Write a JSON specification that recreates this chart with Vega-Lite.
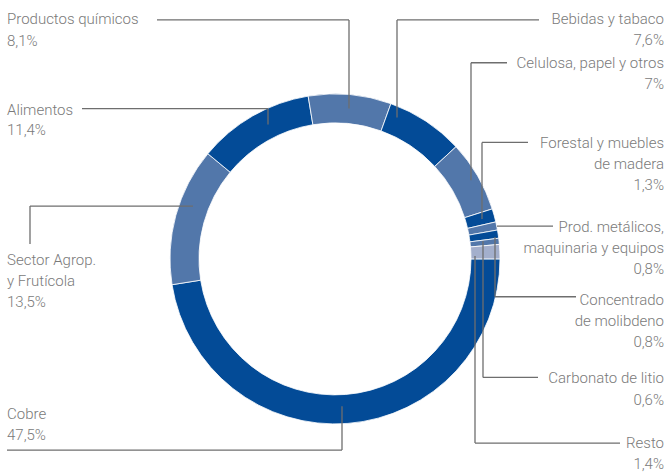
{
  "$schema": "https://vega.github.io/schema/vega-lite/v6.json",
  "width": 666,
  "height": 472,
  "padding": 0,
  "autosize": {"type": "fit", "contains": "padding"},
  "background": "white",
  "config": {"view": {"stroke": null}},
  "datasets": {
    "sectores": [
      {"sector": "Cobre", "pct": 47.5, "tono": "oscuro", "orden": 1},
      {"sector": "Sector Agrop. y Frutícola", "pct": 13.5, "tono": "claro", "orden": 2},
      {"sector": "Alimentos", "pct": 11.4, "tono": "oscuro", "orden": 3},
      {"sector": "Productos químicos", "pct": 8.1, "tono": "claro", "orden": 4},
      {"sector": "Bebidas y tabaco", "pct": 7.6, "tono": "oscuro", "orden": 5},
      {"sector": "Celulosa, papel y otros", "pct": 7.0, "tono": "claro", "orden": 6},
      {"sector": "Forestal y muebles de madera", "pct": 1.3, "tono": "oscuro", "orden": 7},
      {"sector": "Prod. metálicos, maquinaria y equipos", "pct": 0.8, "tono": "claro", "orden": 8},
      {"sector": "Concentrado de molibdeno", "pct": 0.8, "tono": "oscuro", "orden": 9},
      {"sector": "Carbonato de litio", "pct": 0.6, "tono": "claro", "orden": 10},
      {"sector": "Resto", "pct": 1.4, "tono": "gris", "orden": 11}
    ],
    "guias": [
      {"x": 157, "y": 20, "x2": 349, "y2": 20},
      {"x": 349, "y": 20, "x2": 349, "y2": 109},
      {"x": 82, "y": 109, "x2": 268, "y2": 109},
      {"x": 268, "y": 109, "x2": 268, "y2": 125},
      {"x": 30, "y": 245, "x2": 30, "y2": 207},
      {"x": 30, "y": 207, "x2": 193, "y2": 207},
      {"x": 7, "y": 452, "x2": 342, "y2": 452},
      {"x": 342, "y": 452, "x2": 342, "y2": 408},
      {"x": 539, "y": 20, "x2": 397, "y2": 20},
      {"x": 397, "y": 20, "x2": 397, "y2": 118},
      {"x": 507, "y": 63, "x2": 471, "y2": 63},
      {"x": 471, "y": 63, "x2": 471, "y2": 181},
      {"x": 528, "y": 143, "x2": 482, "y2": 143},
      {"x": 482, "y": 143, "x2": 482, "y2": 220},
      {"x": 497, "y": 227, "x2": 553, "y2": 227},
      {"x": 495, "y": 238, "x2": 495, "y2": 298},
      {"x": 495, "y": 298, "x2": 576, "y2": 298},
      {"x": 483, "y": 242, "x2": 483, "y2": 379},
      {"x": 483, "y": 379, "x2": 538, "y2": 379},
      {"x": 475, "y": 257, "x2": 475, "y2": 445},
      {"x": 475, "y": 445, "x2": 620, "y2": 445}
    ],
    "etiquetas": [
      {"x": 7, "y": 19, "texto": "Productos químicos", "lado": "izq"},
      {"x": 7, "y": 41, "texto": "8,1%", "lado": "izq"},
      {"x": 7, "y": 110, "texto": "Alimentos", "lado": "izq"},
      {"x": 7, "y": 131, "texto": "11,4%", "lado": "izq"},
      {"x": 7, "y": 261, "texto": "Sector Agrop.", "lado": "izq"},
      {"x": 7, "y": 282, "texto": "y Frutícola", "lado": "izq"},
      {"x": 7, "y": 303, "texto": "13,5%", "lado": "izq"},
      {"x": 7, "y": 416, "texto": "Cobre", "lado": "izq"},
      {"x": 7, "y": 437, "texto": "47,5%", "lado": "izq"},
      {"x": 664, "y": 19, "texto": "Bebidas y tabaco", "lado": "der"},
      {"x": 664, "y": 40, "texto": "7,6%", "lado": "der"},
      {"x": 664, "y": 63, "texto": "Celulosa, papel y otros", "lado": "der"},
      {"x": 664, "y": 84, "texto": "7%", "lado": "der"},
      {"x": 664, "y": 144, "texto": "Forestal y muebles", "lado": "der"},
      {"x": 664, "y": 165, "texto": "de madera", "lado": "der"},
      {"x": 664, "y": 186, "texto": "1,3%", "lado": "der"},
      {"x": 664, "y": 228, "texto": "Prod. metálicos,", "lado": "der"},
      {"x": 664, "y": 249, "texto": "maquinaria y equipos", "lado": "der"},
      {"x": 664, "y": 270, "texto": "0,8%", "lado": "der"},
      {"x": 664, "y": 301, "texto": "Concentrado", "lado": "der"},
      {"x": 664, "y": 322, "texto": "de molibdeno", "lado": "der"},
      {"x": 664, "y": 343, "texto": "0,8%", "lado": "der"},
      {"x": 664, "y": 380, "texto": "Carbonato de litio", "lado": "der"},
      {"x": 664, "y": 402, "texto": "0,6%", "lado": "der"},
      {"x": 664, "y": 445, "texto": "Resto", "lado": "der"},
      {"x": 664, "y": 466, "texto": "1,4%", "lado": "der"}
    ]
  },
  "layer": [
    {
      "data": {"name": "sectores"},
      "mark": {"type": "arc", "outerRadius": 165, "innerRadius": 136, "stroke": "white", "strokeWidth": 0.8},
      "encoding": {
        "theta": {"field": "pct", "type": "quantitative", "stack": true, "scale": {"range": [1.5707963, 7.8539816]}},
        "order": {"field": "orden", "type": "quantitative"},
        "color": {"field": "tono", "type": "nominal", "scale": {"domain": ["oscuro", "claro", "gris"], "range": ["#034b97", "#5277aa", "#a3afcc"]}, "legend": null},
        "x": {"datum": 335, "type": "quantitative", "scale": {"domain": [0, 666], "nice": false}, "axis": null},
        "y": {"datum": 260, "type": "quantitative", "scale": {"domain": [0, 472], "nice": false, "reverse": true}, "axis": null},
        "tooltip": [{"field": "sector"}, {"field": "pct"}]
      }
    },
    {
      "data": {"name": "guias"},
      "mark": {"type": "rule", "color": "#6e6e6e", "strokeWidth": 1.3},
      "encoding": {
        "x": {"field": "x", "type": "quantitative"},
        "y": {"field": "y", "type": "quantitative"},
        "x2": {"field": "x2"},
        "y2": {"field": "y2"}
      }
    },
    {
      "data": {"name": "etiquetas"},
      "transform": [{"filter": "datum.lado === 'izq'"}],
      "mark": {"type": "text", "align": "left", "baseline": "middle", "font": "Roboto", "fontSize": 15, "fontWeight": 300, "color": "#7a7a7a"},
      "encoding": {
        "x": {"field": "x", "type": "quantitative"},
        "y": {"field": "y", "type": "quantitative"},
        "text": {"field": "texto"}
      }
    },
    {
      "data": {"name": "etiquetas"},
      "transform": [{"filter": "datum.lado === 'der'"}],
      "mark": {"type": "text", "align": "right", "baseline": "middle", "font": "Roboto", "fontSize": 15, "fontWeight": 300, "color": "#7a7a7a"},
      "encoding": {
        "x": {"field": "x", "type": "quantitative"},
        "y": {"field": "y", "type": "quantitative"},
        "text": {"field": "texto"}
      }
    }
  ]
}
